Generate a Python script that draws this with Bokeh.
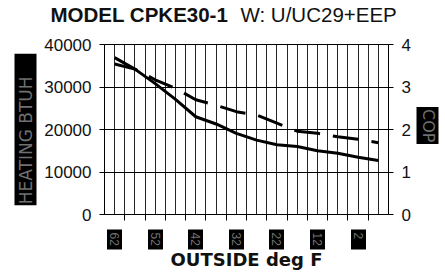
from bokeh.plotting import figure
from bokeh.models import Range1d, LinearAxis, FixedTicker, Title
from bokeh.embed import file_html
from bokeh.resources import INLINE
import numpy as np

# ---- data ----
temps = [62, 57, 52, 47, 42, 37, 32, 27, 22, 17, 12, 7, 2, -3]
heating_btuh = [35400, 34200, 30800, 27100, 23000, 21300, 19100, 17500, 16400, 16000, 15000, 14400, 13450, 12700]
cop = [3.69, 3.42, 3.17, 2.97, 2.70, 2.57, 2.42, 2.34, 2.15, 1.96, 1.91, 1.83, 1.77, 1.69]
x_tick_labels = [62, 52, 42, 32, 22, 12, 2]
left_ticks = [0, 10000, 20000, 30000, 40000]
right_ticks = [0, 1, 2, 3, 4]

GRAY = "#707070"

p = figure(width=445, height=279, output_backend="svg", toolbar_location=None,
           x_range=Range1d(64.5, -5.5), y_range=Range1d(0, 40000),
           min_border_left=104, min_border_right=57, min_border_top=44, min_border_bottom=65)
p.background_fill_color = "white"
p.border_fill_color = "white"
p.outline_line_color = "black"

# grids
p.xgrid.ticker = FixedTicker(ticks=list(np.arange(-5.5, 64.6, 2.5)))
p.xgrid.grid_line_color = "black"
p.xgrid.grid_line_alpha = 0.85
p.ygrid.ticker = FixedTicker(ticks=left_ticks)
p.ygrid.grid_line_color = "black"

# left axis
ya = p.yaxis[0]
ya.ticker = FixedTicker(ticks=left_ticks)
ya.major_tick_out = 5
ya.major_tick_in = 0
ya.minor_tick_out = 0
ya.minor_tick_in = 0
ya.major_label_standoff = 8
ya.major_label_text_font = "Liberation Sans"
ya.major_label_text_font_size = "17px"
ya.major_label_text_color = "#111111"

# right axis (COP values)
p.extra_y_ranges = {"cop": Range1d(0, 4)}
ra = LinearAxis(y_range_name="cop", ticker=FixedTicker(ticks=right_ticks))
ra.major_tick_out = 5
ra.major_tick_in = 0
ra.minor_tick_out = 0
ra.minor_tick_in = 0
ra.major_label_standoff = 8
ra.major_label_text_font = "Liberation Sans"
ra.major_label_text_font_size = "17px"
ra.major_label_text_color = "#111111"
p.add_layout(ra, "right")

# right "COP" boxed title: a thick tick acts as the black box, its label is the text
cop_pos = 2.09
rb = LinearAxis(y_range_name="cop", ticker=FixedTicker(ticks=[cop_pos]),
                major_label_overrides={cop_pos: "COP"})
rb.axis_line_color = None
rb.major_tick_in = -3
rb.major_tick_out = 25
rb.major_tick_line_width = 37
rb.major_tick_line_color = "black"
rb.minor_tick_out = 0
rb.minor_tick_in = 0
rb.major_label_orientation = "vertical"
rb.major_label_standoff = -20
rb.major_label_text_font = "DejaVu Sans"
rb.major_label_text_font_size = "16px"
rb.major_label_text_color = GRAY
p.add_layout(rb, "right")

# bottom axis: labels in black boxes (thick major ticks), small minor tick marks
xa = p.xaxis[0]
xa.ticker = FixedTicker(ticks=x_tick_labels, minor_ticks=list(np.arange(-0.5, 60, 5.0)))
xa.major_tick_in = -15
xa.major_tick_out = 35
xa.major_tick_line_width = 15
xa.major_tick_line_color = "black"
xa.minor_tick_out = 6
xa.minor_tick_in = 0
xa.minor_tick_line_color = "black"
xa.major_label_orientation = "vertical"
xa.major_label_standoff = -17
xa.major_label_text_font = "Liberation Sans"
xa.major_label_text_font_size = "12px"
xa.major_label_text_color = GRAY

# series
p.line(temps, heating_btuh, line_width=3, line_color="black", line_join="round")
p.line(temps, cop, y_range_name="cop", line_width=3, line_color="black",
       line_dash="26 13", line_join="round")

# left boxed axis title
p.add_layout(Title(text="  HEATING BTUH  ", align="center", text_font="DejaVu Sans",
                   text_font_size="17px", text_font_style="normal", text_color=GRAY,
                   background_fill_color="black", padding=1, standoff=10), "left")

# x axis title
p.add_layout(Title(text="OUTSIDE deg F", align="center", text_font="DejaVu Sans",
                   text_font_size="18px", text_font_style="bold", text_color="#111111",
                   standoff=-3), "below")

# main title: spacer, then two zero-height titles sharing one row
p.add_layout(Title(text=" ", text_font_size="10px", standoff=17), "above")
p.add_layout(Title(text="MODEL CPKE30-1", align="left", offset=-54, vertical_align="middle",
                   text_font="Liberation Sans", text_font_size="20.5px", text_font_style="bold",
                   text_color="#111111", standoff=-26), "above")
p.add_layout(Title(text="W: U/UC29+EEP", align="left", offset=136, vertical_align="middle",
                   text_font="Liberation Sans", text_font_size="20.5px", text_font_style="normal",
                   text_color="#111111", standoff=-26), "above")

open("out.html", "w").write(file_html(p, INLINE))
